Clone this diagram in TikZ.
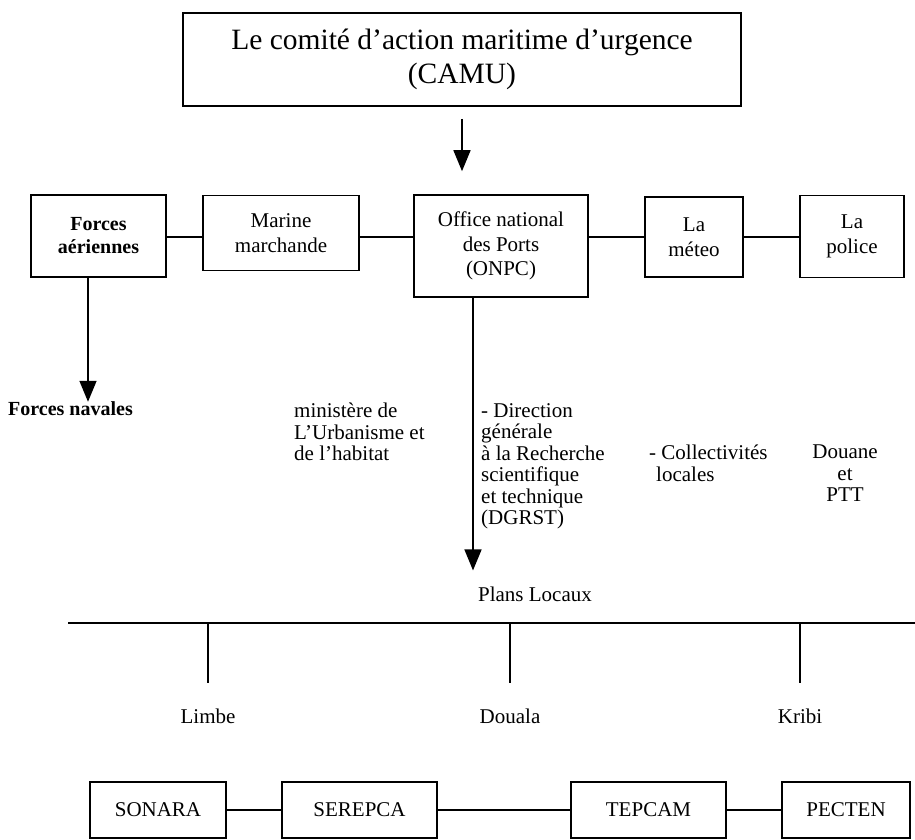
\documentclass[tikz,border=0pt]{standalone}
\usepackage{fontspec}
\setmainfont{Liberation Serif}
\usetikzlibrary{arrows.meta}

\begin{document}
\begin{tikzpicture}[x=1pt,y=-1pt,
    box/.style={draw,line width=1.6pt,align=center,inner sep=0pt,
      font=\fontsize{21}{24.5}\selectfont},
    txt/.style={inner sep=0pt,font=\fontsize{21}{21.5}\selectfont},
    link/.style={line width=1.6pt},
    arr/.style={line width=1.6pt,-{Triangle[length=21pt,width=17pt]}}]
  \useasboundingbox (0,0) rectangle (915,839);
  % top box
  \node[box,minimum width=558pt,minimum height=93pt,
    font=\fontsize{29.5}{34}\selectfont] (camu) at (462,59.5)
    {Le comité d’action maritime d’urgence\\(CAMU)};
  % second row
  \node[box,minimum width=135pt,minimum height=82pt,font=\fontsize{20}{23}\bfseries] (fa) at (98.5,236) {Forces\\aériennes};
  \node[box,minimum width=156pt,minimum height=75pt] (mm) at (281,233) {Marine\\marchande};
  \node[box,minimum width=174pt,minimum height=102pt] (onpc) at (501,246) {Office national\\des Ports\\(ONPC)};
  \node[box,minimum width=98pt,minimum height=80pt] (meteo) at (694,237) {La\\méteo};
  \node[box,minimum width=104pt,minimum height=82pt] (police) at (852,236.5) {La\\police};
  \begin{scope}[link]
    \draw (fa.east |- 0,237) -- (mm.west |- 0,237);
    \draw (mm.east |- 0,237) -- (onpc.west |- 0,237);
    \draw (onpc.east |- 0,237) -- (meteo.west |- 0,237);
    \draw (meteo.east |- 0,237) -- (police.west |- 0,237);
  \end{scope}
  % texts under the second row
  \node[txt,anchor=west,font=\fontsize{20}{22}\bfseries] (navales) at (8,409) {Forces navales};
  \node[txt,anchor=north west,align=left] (ministere) at (294,403)
    {ministère de\\L’Urbanisme et\\de l’habitat};
  \node[txt,anchor=north west,align=left] (dgrst) at (481,403)
    {- Direction\\générale\\à la Recherche\\scientifique\\et technique\\(DGRST)};
  \node[txt,anchor=north west,align=left] (coll) at (649,445)
    {- Collectivités\\\hspace{7pt}locales};
  \node[txt,anchor=north,align=center] (douane) at (845,445) {Douane\\et\\PTT};
  \node[txt] (plans) at (535,594) {Plans Locaux};
  \draw[arr,shorten <=12pt,shorten >=23pt] (camu.south) -- (camu.south |- onpc.north);
  \draw[arr] ([xshift=-10.5pt]fa.south) -- ([xshift=-10.5pt]fa.south |- navales.north);
  \draw[arr,shorten >=16pt] ([xshift=-28pt]onpc.south) -- ([xshift=-28pt]onpc.south |- plans.north);
  % local plans
  \coordinate (barl) at (68,623);
  \coordinate (barr) at (915,623);
  \draw[link] (barl) -- (barr);
  \node[txt] (limbe) at (208,716) {Limbe};
  \node[txt] (douala) at (510,716) {Douala};
  \node[txt] (kribi) at (800,716) {Kribi};
  \foreach \p in {limbe,douala,kribi}
    \draw[line width=1.1pt,shorten >=25pt] (\p |- barl) -- (\p.north);
  % bottom row
  \node[box,minimum width=136pt,minimum height=56pt] (sonara) at (158,810) {SONARA};
  \node[box,minimum width=155pt,minimum height=56pt] (serepca) at (359.5,810) {SEREPCA};
  \node[box,minimum width=155pt,minimum height=56pt] (tepcam) at (648.5,810) {TEPCAM};
  \node[box,minimum width=128pt,minimum height=56pt] (pecten) at (846,810) {PECTEN};
  \begin{scope}[link]
    \draw (sonara) -- (serepca);
    \draw (serepca) -- (tepcam);
    \draw (tepcam) -- (pecten);
  \end{scope}
\end{tikzpicture}
\end{document}
